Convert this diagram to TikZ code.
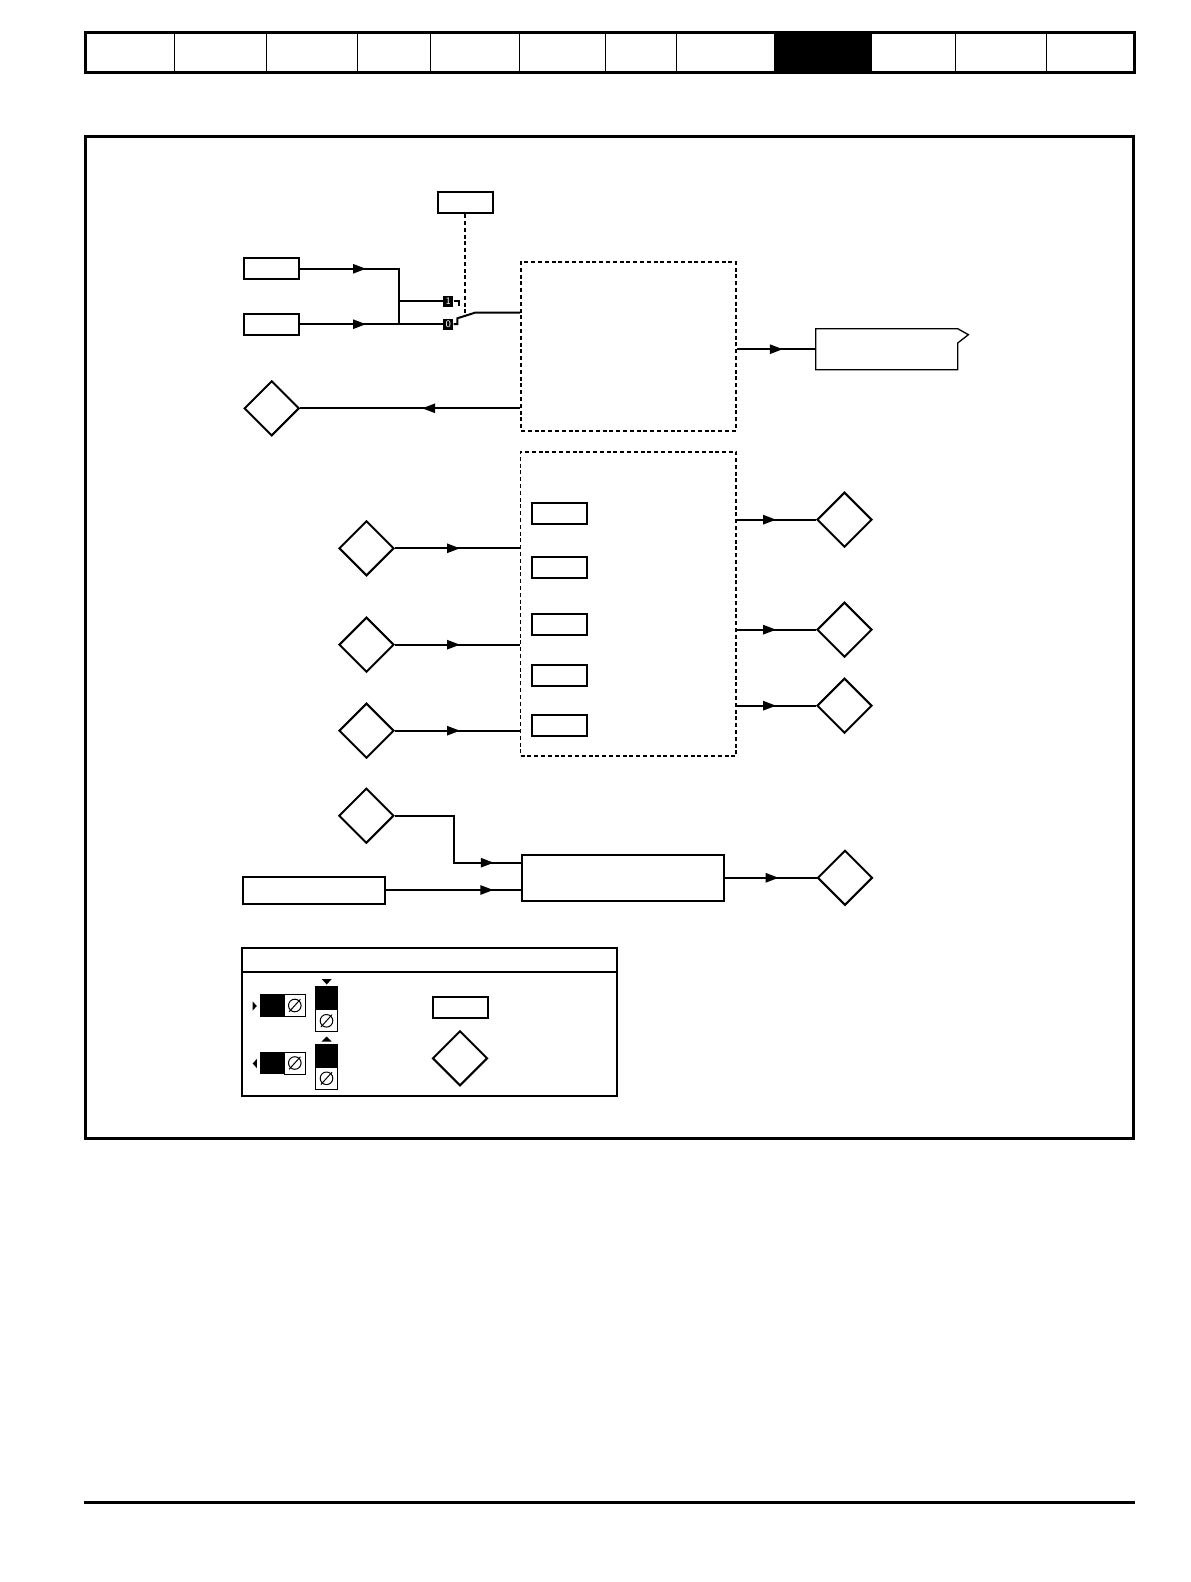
\documentclass[tikz,border=0pt]{standalone}
\usetikzlibrary{
    arrows.meta,
    shapes.geometric,
    decorations.markings
}

\tikzset{
    parmbox/.style={draw, line width=1pt, minimum width=27.5pt, minimum height=10.5pt, inner sep=0pt},
    term/.style={diamond, draw, line width=1pt, minimum width=27.5pt, minimum height=27.5pt, inner sep=0pt},
    zone/.style={draw, line width=0.85pt, dash pattern=on 2pt off 1.4pt, inner sep=0pt},
    wire/.style={line width=1pt},
    flow/.style={wire, postaction={decorate},
        decoration={markings, mark=at position #1 with {\arrow{Triangle[length=6.5pt,width=4.6pt]}}}},
    contact/.style={fill=black, text=white, font=\sffamily\fontsize{5}{5}\selectfont,
        minimum width=5pt, minimum height=5.5pt, inner sep=0pt},
    adjuster/.pic={
        \draw[line width=0.5pt, fill=white] (-10.8,-11) rectangle (10.8,11);
        \draw[line width=0.5pt] (0,0) circle[radius=6.3];
        \draw[line width=0.5pt] (-5.6,6.2) -- (5.6,-6.2);
    }
}

\begin{document}
\begin{tikzpicture}[x=0.5pt, y=-0.5pt]
\useasboundingbox (0,0) rectangle (1190,1582);

% Header
\draw[line width=1.65pt] (85.7,32.7) rectangle (1134.3,72.5);
\fill (774,32.7) rectangle (871.8,72.5);
\foreach \x in {174.6,266.9,357,430.2,519.8,605.2,676.3,955.2,1046}
    \draw[line width=0.5pt] (\x,32.7) -- (\x,72.5);

% Frame and footer
\draw[line width=1.4pt] (85.4,136.4) rectangle (1133.5,1138.7);
\draw[line width=1.65pt] (84,1502.3) -- (1134.5,1502.3);

% Selector
\node[parmbox] (sel) at (465,202.8) {};
\node[parmbox] (inA) at (271.5,268.8) {};
\node[parmbox] (inB) at (271.5,324.2) {};
\node[contact] (c1) at (448.3,301.2) {1};
\node[contact] (c0) at (448.3,324.2) {0};
\coordinate (bus) at (399,301.2);
\draw[flow=33pt] (inA.east) -| (bus |- inB.east);
\draw[flow=33pt] (inB.east) -- (c0.west);
\draw[wire] (bus) -- (c1.west);
\draw[wire] (c1.east) -- ++(5,0) -- ++(0,4.7);

% Upper block
\node[zone, minimum width=107.5pt, minimum height=84.5pt] (mode) at (628.5,346.2) {};
\coordinate (pivot) at (457.3,318.3);
\coordinate (arm) at (475,312.7);
\coordinate (throw) at (465,315.9);
\draw[wire] (c0.east) -| (pivot) -- (arm) -- (mode.west |- arm);
\draw[zone] (sel.south) -- (throw);

\node[term] (fbA) at (271.7,408.3) {};
\draw[flow=49pt] (mode.west |- fbA) -- (fbA.east);

\node[minimum width=70.6pt, minimum height=20.1pt, inner sep=0pt] (dest) at (886.7,349.2) {};
\draw[line width=0.65pt] (dest.north west) -- (dest.north east) -- ++(10.7,6)
    -- ++(-10.7,8.3) -- (dest.south east) -- (dest.south west) -- cycle;
\draw[flow=23pt] (mode.east |- dest) -- (dest.west);

% Lower block
\node[zone, minimum width=107.9pt, minimum height=152.2pt] (logic) at (628.4,603.9) {};
\foreach \y [count=\i] in {513.8,567.3,624.2,675.2,725.7}
    \node[parmbox] (lp\i) at (559,\y) {};
\foreach \y [count=\i] in {548.3,644.7,730.7} {
    \node[term] (li\i) at (366.5,\y) {};
    \draw[flow=32.5pt] (li\i.east) -- (logic.west |- li\i);
}
\foreach \y [count=\i] in {519.7,629.7,705.7} {
    \node[term] (lo\i) at (844.5,\y) {};
    \draw[flow=19.5pt] (logic.east |- lo\i) -- (lo\i.west);
}

% Combiner
\node[term] (fbD) at (366.3,815.7) {};
\node[parmbox, minimum width=71.4pt, minimum height=13.5pt] (src) at (314,890) {};
\node[draw, line width=1pt, minimum width=100.7pt, minimum height=23.2pt, inner sep=0pt] (combo) at (623,877.8) {};
\coordinate (bend) at (453.5,862.7);
\draw[flow=73pt] (fbD.east) -| (bend) -- (combo.west |- bend);
\draw[flow=53.5pt] (src.east) -- (combo.west |- src.east);
\node[term] (fbF) at (845,877.8) {};
\draw[flow=27pt] (combo.east) -- (fbF.west);

% Key
\draw[line width=1pt] (241.7,948.3) rectangle (616.7,1095.7);
\draw[line width=1pt] (241.7,971.7) -- (616.7,971.7);
\fill (252.7,1001.5) -- (256.8,1006) -- (252.7,1010.5) -- cycle;
\fill (260,994.3) rectangle (284,1016.7);
\pic at (294.8,1005.5) {adjuster};
\fill (256.8,1059) -- (252.7,1063.5) -- (256.8,1068) -- cycle;
\fill (260,1051.7) rectangle (284,1074.3);
\pic at (294.8,1063) {adjuster};
\fill (321.7,979) -- (331.7,979) -- (326.7,984.5) -- cycle;
\fill (315.3,986) rectangle (337.7,1010);
\pic at (326.5,1020.8) {adjuster};
\fill (321.7,1041.5) -- (331.7,1041.5) -- (326.7,1036.5) -- cycle;
\fill (315.3,1044) rectangle (337.7,1067.3);
\pic at (326.5,1078.3) {adjuster};
\node[parmbox] (keybox) at (460.3,1007.5) {};
\node[term] (keypin) at (460,1058.3) {};

\end{tikzpicture}
\end{document}
